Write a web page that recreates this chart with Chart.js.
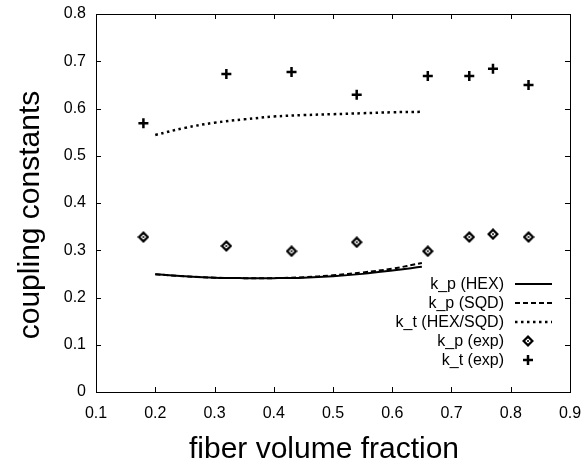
<!DOCTYPE html>
<html>
<head>
<meta charset="utf-8">
<script src="https://cdn.jsdelivr.net/npm/chart.js@4/dist/chart.umd.min.js"></script>
<style>
  html, body { margin: 0; padding: 0; background: #fff; }
  #wrap { width: 583px; height: 466px; }
</style>
</head>
<body>
<div id="wrap"><canvas id="chart" width="583" height="466"></canvas></div>
<script>
// Data

const xTicks = [0.1, 0.2, 0.3, 0.4, 0.5, 0.6, 0.7, 0.8, 0.9];
const yTicks = [0, 0.1, 0.2, 0.3, 0.4, 0.5, 0.6, 0.7, 0.8];

// model curves (fiber volume fraction)
const modelX   = [0.2, 0.25, 0.3, 0.35, 0.4, 0.45, 0.5, 0.55, 0.6, 0.65];
const kpHex    = [0.249, 0.245, 0.242, 0.241, 0.241, 0.242, 0.245, 0.250, 0.257, 0.265];
const kpSqd    = [0.249, 0.245, 0.242, 0.241, 0.241, 0.243, 0.247, 0.253, 0.261, 0.273];
const ktHexSqd = [0.544, 0.559, 0.570, 0.577, 0.583, 0.586, 0.588, 0.590, 0.592, 0.593];

// measured values
const expX  = [0.18, 0.32, 0.43, 0.54, 0.66, 0.73, 0.77, 0.83];
const kpExp = [0.328, 0.309, 0.298, 0.317, 0.298, 0.328, 0.334, 0.328];
const ktExp = [0.569, 0.673, 0.677, 0.629, 0.669, 0.669, 0.684, 0.650];

const legendLabels = ['k_p (HEX)', 'k_p (SQD)', 'k_t (HEX/SQD)', 'k_p (exp)', 'k_t (exp)'];
const xTitle = 'fiber volume fraction';
const yTitle = 'coupling constants';

const FONT = '"Liberation Sans", Arial, Helvetica, sans-serif';

// diamond marker with a dot in the middle (gnuplot style)
function makeDiamond() {
    const c = document.createElement('canvas');
    c.width = 12; c.height = 12;
    const g = c.getContext('2d');
    g.beginPath();
    g.moveTo(6, 1.6); g.lineTo(10.4, 6); g.lineTo(6, 10.4); g.lineTo(1.6, 6); g.closePath();
    g.fillStyle = '#fff';
    g.fill();
    g.lineWidth = 2.2;
    g.strokeStyle = '#000';
    g.stroke();
    g.beginPath();
    g.arc(6, 6, 1, 0, Math.PI * 2);
    g.fillStyle = '#000';
    g.fill();
    return c;
}
const diamond = makeDiamond();

function pairs(xs, ys) {
    return xs.map((x, i) => ({x: x, y: ys[i]}));
}

// frame with inward ticks on all four sides, plus the axis titles
const framePlugin = {
    id: 'frame',
    afterDraw(chart) {
        const {ctx, chartArea: a, scales} = chart;
        const len = 5;
        ctx.save();
        ctx.strokeStyle = '#000';
        ctx.lineWidth = 1;
        ctx.strokeRect(a.left + 0.5, a.top + 0.5, a.right - a.left, a.bottom - a.top);
        ctx.beginPath();
        xTicks.forEach(v => {
            const px = Math.round(scales.x.getPixelForValue(v)) + 0.5;
            ctx.moveTo(px, a.bottom); ctx.lineTo(px, a.bottom - len);
            ctx.moveTo(px, a.top); ctx.lineTo(px, a.top + len);
        });
        yTicks.forEach(v => {
            const py = Math.round(scales.y.getPixelForValue(v)) + 0.5;
            ctx.moveTo(a.left, py); ctx.lineTo(a.left + len, py);
            ctx.moveTo(a.right, py); ctx.lineTo(a.right - len, py);
        });
        ctx.stroke();

        ctx.fillStyle = '#000';
        ctx.font = '30px ' + FONT;
        ctx.textAlign = 'center';
        ctx.textBaseline = 'middle';
        ctx.fillText(xTitle, (a.left + a.right) / 2 - 9, 450);
        ctx.translate(31, (a.top + a.bottom) / 2 + 12);
        ctx.rotate(-Math.PI / 2);
        ctx.fillText(yTitle, 0, 0);
        ctx.restore();
    }
};

// legend in the lower right corner, text left of the sample
const keyPlugin = {
    id: 'key',
    afterDraw(chart) {
        const {ctx, chartArea: a} = chart;
        const textRight = a.right - 66;
        const lineL = a.right - 55, lineR = a.right - 18;
        const rows = [a.bottom - 108, a.bottom - 89, a.bottom - 70, a.bottom - 51, a.bottom - 32];
        ctx.save();
        ctx.font = '16px ' + FONT;
        ctx.fillStyle = '#000';
        ctx.textAlign = 'right';
        ctx.textBaseline = 'middle';
        chart.data.datasets.forEach((ds, i) => {
            const y = rows[i];
            ctx.fillText(legendLabels[i], textRight, y + 1);
            if (ds.showLine) {
                ctx.beginPath();
                ctx.setLineDash(ds.borderDash || []);
                ctx.lineWidth = ds.borderWidth;
                ctx.strokeStyle = '#000';
                ctx.moveTo(lineL, y); ctx.lineTo(lineR, y);
                ctx.stroke();
                ctx.setLineDash([]);
            } else if (ds.pointStyle === 'cross') {
                ctx.beginPath();
                ctx.lineWidth = 2.5;
                ctx.strokeStyle = '#000';
                ctx.moveTo(a.right - 42 - 5, y); ctx.lineTo(a.right - 42 + 5, y);
                ctx.moveTo(a.right - 42, y - 5); ctx.lineTo(a.right - 42, y + 5);
                ctx.stroke();
            } else {
                ctx.drawImage(diamond, a.right - 42 - 6, y - 6);
            }
        });
        ctx.restore();
    }
};

const chart = new Chart(document.getElementById('chart'), {
    type: 'scatter',
    data: {
        datasets: [
            {
                label: legendLabels[0],
                data: pairs(modelX, kpHex),
                showLine: true,
                borderColor: '#000',
                borderWidth: 2,
                pointRadius: 0,
                tension: 0.4
            },
            {
                label: legendLabels[1],
                data: pairs(modelX, kpSqd),
                showLine: true,
                borderColor: '#000',
                borderWidth: 2,
                borderDash: [5, 3],
                pointRadius: 0,
                tension: 0.4
            },
            {
                label: legendLabels[2],
                data: pairs(modelX, ktHexSqd),
                showLine: true,
                borderColor: '#000',
                borderWidth: 2.5,
                borderDash: [2.5, 3.5],
                pointRadius: 0,
                tension: 0.4
            },
            {
                label: legendLabels[3],
                data: pairs(expX, kpExp),
                pointStyle: diamond,
                pointRadius: 6,
                borderColor: '#000',
                backgroundColor: '#fff'
            },
            {
                label: legendLabels[4],
                data: pairs(expX, ktExp),
                pointStyle: 'cross',
                pointRadius: 5,
                borderWidth: 2.5,
                borderColor: '#000'
            }
        ]
    },
    options: {
        responsive: false,
        animation: false,
        events: [],
        layout: {
            padding: {left: 0, right: 13, top: 14, bottom: 0}
        },
        plugins: {
            legend: {display: false},
            tooltip: {enabled: false}
        },
        scales: {
            x: {
                type: 'linear',
                min: 0.1,
                max: 0.9,
                afterFit: (scale) => {
                    scale.height = 74;
                    scale.paddingLeft = 0;
                    scale.paddingRight = 0;
                },
                afterBuildTicks: (scale) => { scale.ticks = xTicks.map(v => ({value: v})); },
                grid: {display: false, drawTicks: false},
                border: {display: false},
                ticks: {
                    padding: 12,
                    color: '#000',
                    font: {family: FONT, size: 16},
                    callback: (value) => String(Math.round(value * 10) / 10)
                }
            },
            y: {
                type: 'linear',
                min: 0,
                max: 0.8,
                afterFit: (scale) => {
                    scale.width = 96;
                    scale.paddingTop = 0;
                    scale.paddingBottom = 0;
                },
                afterBuildTicks: (scale) => { scale.ticks = yTicks.map(v => ({value: v})); },
                grid: {display: false, drawTicks: false},
                border: {display: false},
                ticks: {
                    padding: 10,
                    color: '#000',
                    font: {family: FONT, size: 16},
                    callback: (value) => String(Math.round(value * 10) / 10)
                }
            }
        }
    },
    plugins: [framePlugin, keyPlugin]
});
</script>
</body>
</html>
